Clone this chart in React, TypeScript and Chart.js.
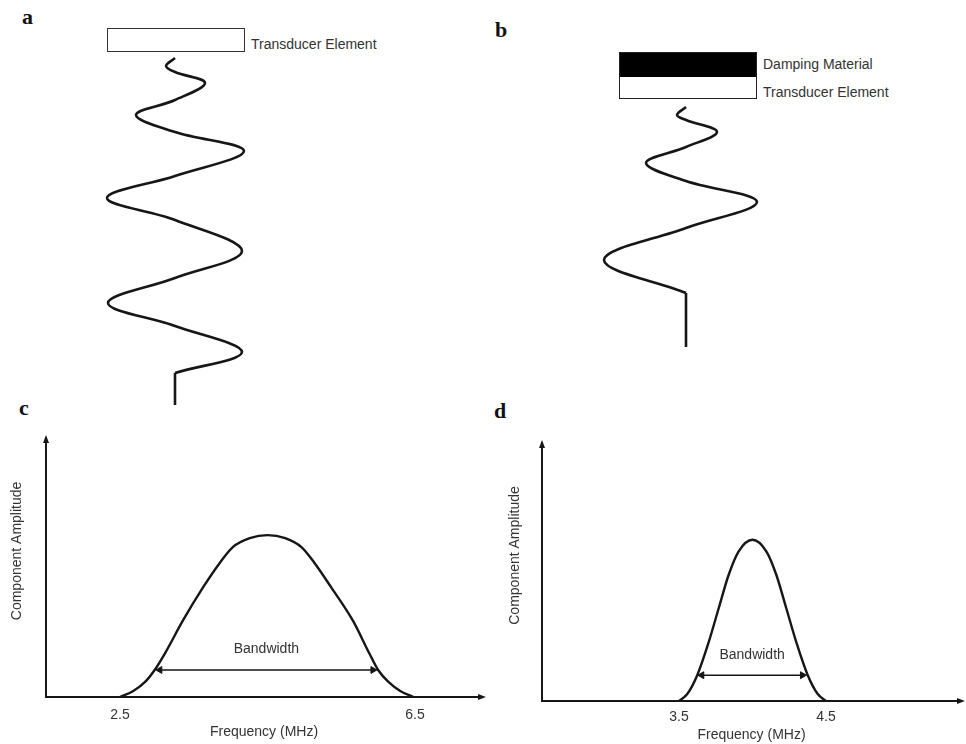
import React, { useEffect, useRef } from "react";
import { Chart, registerables } from "chart.js";

Chart.register(...registerables);

const FONT = "'Liberation Sans', Arial, Helvetica, sans-serif";
const SERIF = "'Liberation Serif', 'Times New Roman', serif";
const INK = "#161616";
const TEXT = "#333333";

Chart.defaults.font.family = FONT;
Chart.defaults.color = TEXT;

// ---------- Panel a: undamped transducer ringing (displacement vs. time, time runs down) ----------
const WAVE_A_DISP = [0, -0.9, 0, 3.0, 0, -3.9, 0, 6.9, 0, -6.8, 0, 6.7, 0, -6.7, 0, 6.7, 0];
const WAVE_A_TIME = [0, 0.8, 1.4, 2.5, 4.2, 5.7, 7.4, 9.3, 11.8, 14.0, 16.2, 19.3, 22.0, 24.5, 26.8, 29.4, 31.5];
const STEM_A_DISP = [0, 0];
const STEM_A_TIME = [31.5, 34.7];

// ---------- Panel b: damped transducer (short pulse) ----------
const WAVE_B_DISP = [0, -0.9, 0, 3.1, 0, -4.0, 0, 7.1, 0, -8.2, 0];
const WAVE_B_TIME = [0, 0.8, 1.3, 2.5, 4.0, 5.6, 7.4, 9.5, 12.1, 15.3, 18.6];
const STEM_B_DISP = [0, 0];
const STEM_B_TIME = [18.6, 24.0];

// ---------- Panel c: broad spectrum ----------
const FREQ_C = [2.5, 2.68, 2.84, 2.97, 3.11, 3.35, 3.63, 3.86, 4.03, 4.26, 4.5, 4.74, 4.96, 5.13, 5.36, 5.66, 5.88, 6.0, 6.14, 6.3, 6.48];
const AMP_C = [0, 0.037, 0.093, 0.167, 0.27, 0.47, 0.68, 0.833, 0.926, 0.981, 1.0, 0.981, 0.926, 0.833, 0.68, 0.47, 0.27, 0.167, 0.093, 0.037, 0];
const TICKS_C = [2.5, 6.5];
const BW_C = [3.04, 5.93];
const BW_AMP_C = 0.167;

// ---------- Panel d: narrow spectrum ----------
const FREQ_D = [3.5, 3.556, 3.624, 3.703, 3.77, 3.838, 3.905, 4.0, 4.095, 4.162, 4.23, 4.297, 4.376, 4.444, 4.5];
const AMP_D = [0, 0.043, 0.16, 0.368, 0.575, 0.783, 0.927, 1.0, 0.927, 0.783, 0.575, 0.368, 0.16, 0.043, 0];
const TICKS_D = [3.5, 4.5];
const BW_D = [3.655, 4.34];
const BW_AMP_D = 0.16;

const X_TITLE = "Frequency (MHz)";
const Y_TITLE = "Component Amplitude";
const BW_LABEL = "Bandwidth";

type Pt = { x: number; y: number };
const toPts = (xs: number[], ys: number[]): Pt[] => xs.map((x, i) => ({ x, y: ys[i] }));

function waveConfig(
  disp: number[],
  time: number[],
  stemDisp: number[],
  stemTime: number[],
  xRange: [number, number],
  yRange: [number, number]
): any {
  return {
    type: "line",
    data: {
      datasets: [
        {
          data: toPts(disp, time),
          borderColor: INK,
          borderWidth: 2.6,
          pointRadius: 0,
          tension: 0.36,
          fill: false,
        },
        {
          data: toPts(stemDisp, stemTime),
          borderColor: INK,
          borderWidth: 2.6,
          pointRadius: 0,
          tension: 0,
          fill: false,
        },
      ],
    },
    options: {
      indexAxis: "y",
      animation: false,
      responsive: false,
      events: [],
      layout: { padding: 0 },
      plugins: { legend: { display: false }, tooltip: { enabled: false } },
      scales: {
        x: { type: "linear", display: false, min: xRange[0], max: xRange[1] },
        y: { type: "linear", display: false, min: yRange[0], max: yRange[1], reverse: true },
      },
    },
  };
}

interface SpecOpts {
  freq: number[];
  amp: number[];
  ticks: number[];
  bw: number[];
  bwAmp: number;
  xMin: number;
  xMax: number;
  yMax: number;
  padTop: number;
  padRight: number;
  yWidth: number;
  xHeight: number;
  tickPad: number;
  titlePad: number;
  yTitleOffset: number;
  bwLabelGap: number;
}

function spectrumConfig(o: SpecOpts): any {
  const decor = {
    id: "decor",
    afterDraw(chart: any) {
      const { ctx, chartArea: a } = chart;
      ctx.save();
      ctx.fillStyle = INK;
      // arrowhead on the amplitude axis
      ctx.beginPath();
      ctx.moveTo(a.left, a.top - 3);
      ctx.lineTo(a.left - 3, a.top + 5);
      ctx.lineTo(a.left + 3, a.top + 5);
      ctx.closePath();
      ctx.fill();
      // arrowhead on the frequency axis
      ctx.beginPath();
      ctx.moveTo(a.right + 4, a.bottom);
      ctx.lineTo(a.right - 4, a.bottom - 3);
      ctx.lineTo(a.right - 4, a.bottom + 3);
      ctx.closePath();
      ctx.fill();
      // y-axis title
      ctx.fillStyle = TEXT;
      ctx.font = `14px ${FONT}`;
      ctx.textAlign = "center";
      ctx.textBaseline = "middle";
      ctx.save();
      ctx.translate(a.left - o.yTitleOffset, a.top + 0.436 * (a.bottom - a.top));
      ctx.rotate(-Math.PI / 2);
      ctx.fillText(Y_TITLE, 0, 0);
      ctx.restore();
      // bandwidth label
      const xs = chart.scales.x;
      const ys = chart.scales.y;
      const cx = xs.getPixelForValue((o.bw[0] + o.bw[1]) / 2);
      const cy = ys.getPixelForValue(o.bwAmp) - o.bwLabelGap;
      ctx.fillText(BW_LABEL, cx, cy);
      ctx.restore();
    },
  };
  return {
    type: "line",
    plugins: [decor],
    data: {
      datasets: [
        {
          data: toPts(o.freq, o.amp),
          borderColor: INK,
          borderWidth: 2.4,
          pointRadius: 0,
          cubicInterpolationMode: "monotone",
          fill: false,
        },
        {
          data: o.bw.map((f) => ({ x: f, y: o.bwAmp })),
          borderColor: INK,
          borderWidth: 1.6,
          tension: 0,
          pointStyle: "triangle",
          pointRadius: 4,
          pointBorderWidth: 1,
          pointBackgroundColor: INK,
          pointBorderColor: INK,
          pointRotation: (c: any) => (c.dataIndex === 0 ? -90 : 90),
          fill: false,
        },
      ],
    },
    options: {
      animation: false,
      responsive: false,
      events: [],
      layout: { padding: { top: o.padTop, right: o.padRight, left: 0, bottom: 0 } },
      plugins: { legend: { display: false }, tooltip: { enabled: false } },
      scales: {
        x: {
          type: "linear",
          min: o.xMin,
          max: o.xMax,
          grid: { display: false, drawTicks: false },
          border: { display: true, color: INK, width: 2 },
          afterBuildTicks: (s: any) => {
            s.ticks = o.ticks.map((v) => ({ value: v }));
          },
          afterFit: (s: any) => {
            s.height = o.xHeight;
          },
          ticks: {
            padding: o.tickPad,
            color: TEXT,
            font: { size: 14, family: FONT },
            callback: (v: any) => Number(v).toFixed(1),
            maxRotation: 0,
          },
          title: {
            display: true,
            text: X_TITLE,
            color: TEXT,
            font: { size: 14, family: FONT },
            padding: { top: 0, bottom: o.titlePad },
          },
        },
        y: {
          type: "linear",
          min: 0,
          max: o.yMax,
          grid: { display: false, drawTicks: false },
          border: { display: true, color: INK, width: 2 },
          ticks: { display: false },
          afterFit: (s: any) => {
            s.width = o.yWidth;
          },
        },
      },
    },
  };
}

function ChartCanvas(props: { left: number; top: number; width: number; height: number; make: () => any }) {
  const ref = useRef<HTMLCanvasElement | null>(null);
  useEffect(() => {
    if (!ref.current) return;
    const chart = new Chart(ref.current, props.make());
    return () => chart.destroy();
  }, []);
  return (
    <canvas
      ref={ref}
      width={props.width}
      height={props.height}
      style={{ position: "absolute", left: props.left, top: props.top, width: props.width, height: props.height }}
    />
  );
}

function Letter(props: { text: string; left: number; top: number }) {
  return (
    <div
      style={{
        position: "absolute",
        left: props.left,
        top: props.top,
        fontFamily: SERIF,
        fontWeight: "bold",
        fontSize: 22,
        lineHeight: "22px",
        color: "#111",
      }}
    >
      {props.text}
    </div>
  );
}

function Label(props: { text: string; left: number; top: number }) {
  return (
    <div
      style={{
        position: "absolute",
        left: props.left,
        top: props.top,
        fontFamily: FONT,
        fontSize: 14,
        lineHeight: "16px",
        color: TEXT,
        whiteSpace: "nowrap",
      }}
    >
      {props.text}
    </div>
  );
}

export default function App() {
  return (
    <div
      style={{
        position: "absolute",
        left: 0,
        top: 0,
        width: 966,
        height: 744,
        background: "#ffffff",
        overflow: "hidden",
      }}
    >
      <Letter text="a" left={22} top={5.6} />
      <Letter text="b" left={495} top={18.6} />
      <Letter text="c" left={19} top={396.6} />
      <Letter text="d" left={494} top={399.6} />

      {/* panel a: transducer element */}
      <div
        style={{
          position: "absolute",
          left: 107,
          top: 28,
          width: 138,
          height: 24,
          border: "1.5px solid #333",
          boxSizing: "border-box",
        }}
      />
      <Label text="Transducer Element" left={251} top={35.5} />

      {/* panel b: damping material over transducer element */}
      <div
        style={{
          position: "absolute",
          left: 619,
          top: 52,
          width: 138,
          height: 47,
          border: "1.5px solid #222",
          boxSizing: "border-box",
          background: "#fff",
        }}
      >
        <div style={{ width: "100%", height: 24, background: "#000" }} />
      </div>
      <Label text="Damping Material" left={763} top={55.5} />
      <Label text="Transducer Element" left={763} top={84} />

      <ChartCanvas
        left={75}
        top={50}
        width={200}
        height={370}
        make={() => waveConfig(WAVE_A_DISP, WAVE_A_TIME, STEM_A_DISP, STEM_A_TIME, [-10, 10], [-0.8, 36.2])}
      />
      <ChartCanvas
        left={586}
        top={100}
        width={200}
        height={260}
        make={() => waveConfig(WAVE_B_DISP, WAVE_B_TIME, STEM_B_DISP, STEM_B_TIME, [-10, 10], [-0.7, 25.3])}
      />

      <ChartCanvas
        left={0}
        top={420}
        width={490}
        height={324}
        make={() =>
          spectrumConfig({
            freq: FREQ_C,
            amp: AMP_C,
            ticks: TICKS_C,
            bw: BW_C,
            bwAmp: BW_AMP_C,
            xMin: 1.4966,
            xMax: 7.4085,
            yMax: 1.6,
            padTop: 18,
            padRight: 8,
            yWidth: 46,
            xHeight: 47,
            tickPad: 9.6,
            titlePad: 3.6,
            yTitleOffset: 29,
            bwLabelGap: 21,
          })
        }
      />
      <ChartCanvas
        left={483}
        top={420}
        width={483}
        height={324}
        make={() =>
          spectrumConfig({
            freq: FREQ_D,
            amp: AMP_D,
            ticks: TICKS_D,
            bw: BW_D,
            bwAmp: BW_AMP_D,
            xMin: 2.5676,
            xMax: 5.4189,
            yMax: 1.6,
            padTop: 23,
            padRight: 2,
            yWidth: 59,
            xHeight: 43,
            tickPad: 7.6,
            titlePad: 0.6,
            yTitleOffset: 27,
            bwLabelGap: 20,
          })
        }
      />
    </div>
  );
}
